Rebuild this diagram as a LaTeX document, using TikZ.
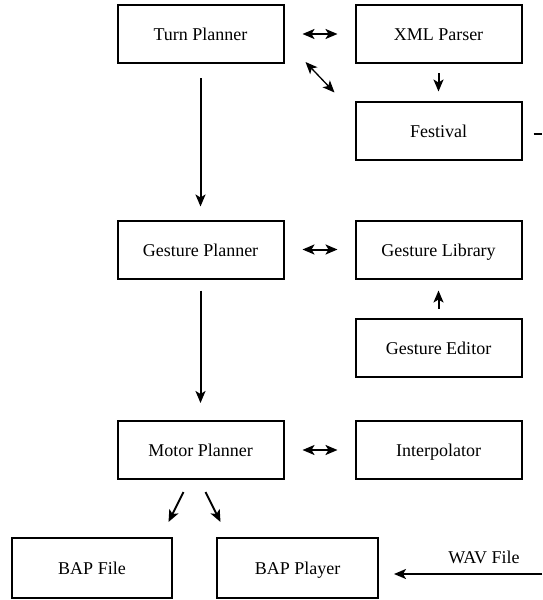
\documentclass[tikz,border=0pt]{standalone}
\usepackage{fontspec}
\setmainfont{Liberation Serif}
\usetikzlibrary{arrows.meta,calc}
\begin{document}
\begin{tikzpicture}[x=1pt,y=-1pt,
  box/.style={draw,line width=2pt,minimum width=166pt,minimum height=58pt,inner sep=0pt,text height=13pt,text depth=0pt,font=\fontsize{18}{21}\selectfont},
  tip/.tip={Stealth[length=12pt,width=10pt,inset=3pt]},
  conn/.style={line width=2pt,-tip},
  dconn/.style={line width=2pt,tip-tip}]
\useasboundingbox (0,0) rectangle (542,600);
\node[box] (tp) at (200.5,34) {Turn Planner};
\node[box] (xml) at (438.5,34) {XML Parser};
\node[box] (fest) at (438.5,130.5) {Festival};
\node[box] (gp) at (200.5,249.5) {Gesture Planner};
\node[box] (gl) at (438.5,249.5) {Gesture Library};
\node[box] (ge) at (438.5,347.5) {Gesture Editor};
\node[box] (mp) at (200.5,450) {Motor Planner};
\node[box] (ip) at (438.5,450) {Interpolator};
\node[box,minimum width=160pt,minimum height=60pt] (bf) at (92,568) {BAP File};
\node[box,minimum width=161pt,minimum height=60pt] (bp) at (297.5,568) {BAP Player};
\node[font=\fontsize{18}{21}\selectfont] (wavl) at (484,557) {WAV File};
% connectors
\draw[dconn,shorten <=18pt,shorten >=17pt] (tp.east) -- (xml.west);
\coordinate (d1) at ($(tp.south east)+(21,-2)$);
\coordinate (d2) at ($(fest.north west)+(-20,-8)$);
\draw[dconn,line width=1.3pt] (d1) -- (d2);
\draw[conn,shorten <=9pt,shorten >=9pt] (xml.south) -- (fest.north);
\draw[conn,shorten <=14pt,shorten >=13pt] (tp.south) -- (gp.north);
\draw[dconn,shorten <=18pt,shorten >=17pt] (gp.east) -- (gl.west);
\draw[conn,shorten <=9pt,shorten >=11pt] (ge.north) -- (gl.south);
\draw[conn,shorten <=11pt,shorten >=17pt] (gp.south) -- (mp.north);
\draw[dconn,shorten <=18pt,shorten >=17pt] (mp.east) -- (ip.west);
\coordinate (m1) at ($(mp.south)+(-17,12)$);
\coordinate (m2) at ($(mp.south)+(-32,42)$);
\coordinate (m3) at ($(mp.south)+(5,12)$);
\coordinate (m4) at ($(mp.south)+(20,42)$);
\draw[conn] (m1) -- (m2);
\draw[conn] (m3) -- (m4);
\coordinate (wav) at (542,574);
\draw[conn] (wav) -- ($(bp.east)+(15,6)$);
\coordinate (fo) at (542,134);
\draw[line width=2pt] ($(fest.east)+(11,3.5)$) -- (fo);
\end{tikzpicture}
\end{document}
